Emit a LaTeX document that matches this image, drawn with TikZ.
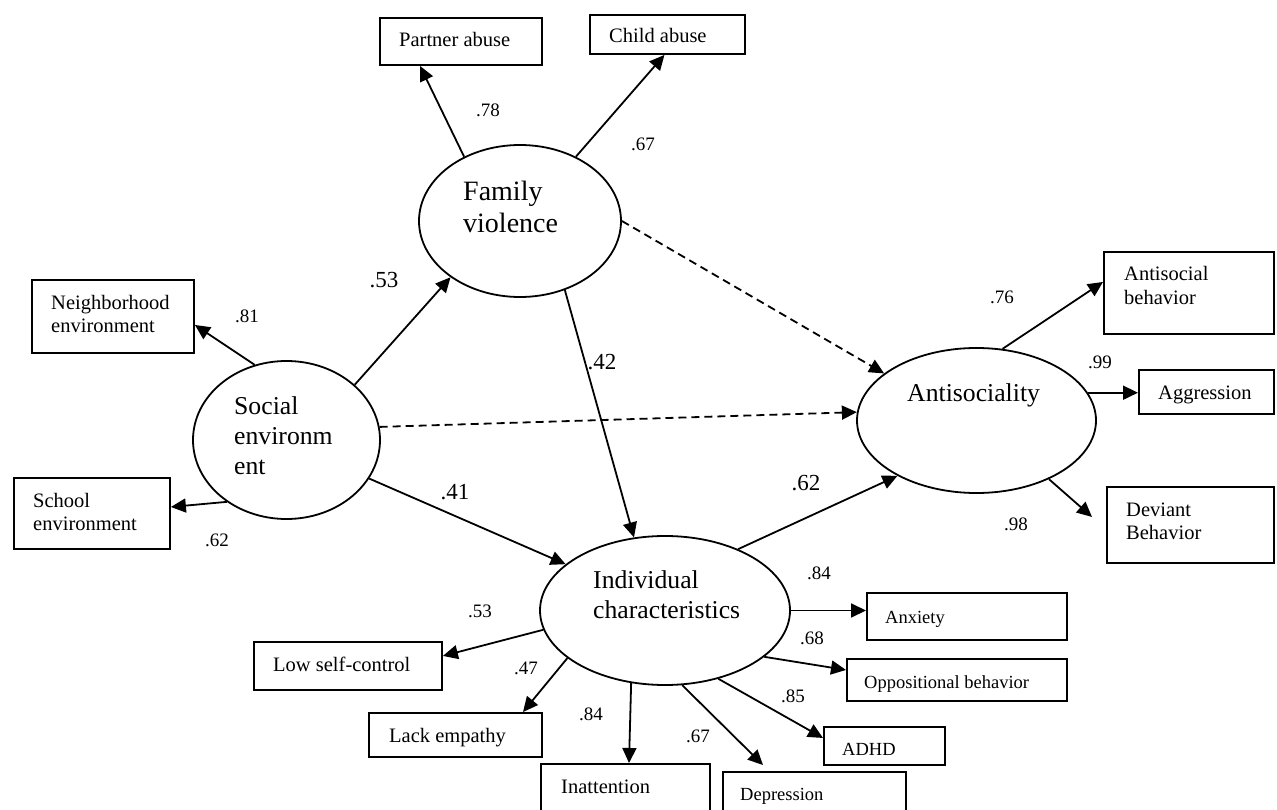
\documentclass[tikz,border=0pt]{standalone}
\usepackage{fontspec}
\setmainfont{Liberation Serif}
\usetikzlibrary{arrows.meta,shapes.geometric}
\newcommand{\bfnt}{\fontsize{20.5}{23.5}\selectfont}
\newcommand{\sfnt}{\fontsize{18.5}{21.5}\selectfont}
\newcommand{\efnt}{\fontsize{25.7}{30}\selectfont}
\newcommand{\ffnt}{\fontsize{28}{32}\selectfont}
\newcommand{\lsfnt}{\fontsize{19}{22}\selectfont}
\newcommand{\llfnt}{\fontsize{23}{26}\selectfont}
\tikzset{
  box/.style={draw, line width=1.9pt, rectangle, inner sep=0pt, anchor=north west},
  ell/.style={draw, ellipse, line width=1.8pt, inner sep=0pt},
  btxt/.style={font=\bfnt, anchor=base west, inner sep=0pt, align=left},
  stxt/.style={font=\sfnt, anchor=base west, inner sep=0pt, align=left},
  etxt/.style={font=\efnt, anchor=base west, inner sep=0pt, align=left},
  smalllab/.style={font=\lsfnt, inner sep=0pt},
  biglab/.style={font=\llfnt, inner sep=0pt},
  arr/.style={line width=1.8pt, -{Triangle[length=15pt,width=14pt]}},
  darr/.style={arr, dash pattern=on 8pt off 5pt}
}
\begin{document}
\begin{tikzpicture}[x=1pt,y=-1pt]
\useasboundingbox (0,0) rectangle (1277,810);
% latent variables
\node[ell, minimum width=202, minimum height=152] (fv) at (520,221) {};
\node[ell, minimum width=187, minimum height=158] (se) at (286.5,440) {};
\node[ell, minimum width=239, minimum height=145] (as) at (976.5,420.5) {};
\node[ell, minimum width=250, minimum height=149] (ic) at (665,610.5) {};
% (base of a multi-line node = baseline of its last line)
\node[etxt, font=\ffnt] (fvt) at (463,233) {Family\\violence};
\node[etxt] (set) at (234,474) {Social\\environm\\ent};
\node[etxt] (ast) at (907,401) {Antisociality};
\node[etxt] (ict) at (593,618) {Individual\\characteristics};
% indicators
\node[box, minimum width=162, minimum height=47] (pa) at (379,17) {};
\node[box, minimum width=155, minimum height=39] (ca) at (589,14) {};
\node[box, minimum width=162, minimum height=73] (nb) at (31,279) {};
\node[box, minimum width=156, minimum height=71] (sc) at (13,477) {};
\node[box, minimum width=170, minimum height=82] (ab) at (1103,251) {};
\node[box, minimum width=135, minimum height=44] (ag) at (1138,369) {};
\node[box, minimum width=167, minimum height=76] (db) at (1106,486) {};
\node[box, minimum width=200, minimum height=47] (anx) at (866,592) {};
\node[box, minimum width=220, minimum height=42] (opp) at (846,658) {};
\node[box, minimum width=121, minimum height=38] (adhd) at (823,726) {};
\node[box, minimum width=183, minimum height=60] (dep) at (722,771) {};
\node[box, minimum width=169, minimum height=60] (ina) at (540,763) {};
\node[box, minimum width=173, minimum height=44] (le) at (368,712) {};
\node[box, minimum width=188, minimum height=48] (lsc) at (253,641) {};
% indicator texts
\node[btxt] (pat) at ([shift={(20,30)}]pa.north west) {Partner abuse};
\node[btxt] (cat) at ([shift={(20,29)}]ca.north west) {Child abuse};
\node[btxt] (nbt) at ([shift={(20,54)}]nb.north west) {Neighborhood\\environment};
\node[btxt] (sct) at ([shift={(20,53.5)}]sc.north west) {School\\environment};
\node[btxt] (abt) at ([shift={(21,53.5)}]ab.north west) {Antisocial\\behavior};
\node[btxt] (agt) at ([shift={(20,30)}]ag.north west) {Aggression};
\node[btxt] (dbt) at ([shift={(20,53.5)}]db.north west) {Deviant\\Behavior};
\node[stxt] (anxt) at ([shift={(19,31)}]anx.north west) {Anxiety};
\node[stxt] (oppt) at ([shift={(18,30)}]opp.north west) {Oppositional behavior};
\node[stxt] (adhdt) at ([shift={(19,29)}]adhd.north west) {ADHD};
\node[stxt] (dept) at ([shift={(18,29)}]dep.north west) {Depression};
\node[btxt] (inat) at ([shift={(21,30)}]ina.north west) {Inattention};
\node[btxt] (let) at ([shift={(21,30)}]le.north west) {Lack empathy};
\node[btxt] (lsct) at ([shift={(20,30)}]lsc.north west) {Low self-control};
% connectors
\draw[arr] (fv.131) -- ([xshift=41pt]pa.south west);
\draw[arr] (fv.49) -- ([xshift=-3pt]ca.south);
\draw[arr] (se.39) -- (fv.219);
\draw[arr] (se.113) -- ([yshift=-8.5pt]nb.east);
\draw[arr] (se.226) -- ([yshift=6.5pt]sc.east);
\draw[darr] (se.8) -- (as.176);
\draw[arr] (se.335) -- (ic.155);
\draw[darr] (fv.0) -- (as.153);
\draw[arr] (fv.303) -- (ic.113);
\draw[arr] (ic.40) -- (as.215);
\draw[arr] (as.70) -- ([yshift=11pt]ab.west);
\draw[arr] (as.14) -- (as.14 -| ag.west);
\draw[arr] (as.321) -- ([xshift=-14pt,yshift=8pt]db.west);
\draw[arr] (ic.east) -- (ic.east -| anx.west);
\draw[arr] (ic.335) -- ([yshift=10pt]opp.west);
\draw[arr] (ic.308) -- ([yshift=8pt]adhd.west);
\draw[arr] (ic.283) -- ([xshift=41pt,yshift=6pt]dep.north west);
\draw[arr] (ic.245) -- ([xshift=89pt]ina.north west);
\draw[arr] (ic.206) -- ([xshift=155pt]le.north west);
\draw[arr] (ic.189) -- ([yshift=10pt]lsc.east);
% coefficients
\node[smalllab] (l78) at (488,110) {.78};
\node[smalllab] (l67a) at (643,144) {.67};
\node[biglab] (l53a) at (384,280) {.53};
\node[smalllab] (l81) at (247,316) {.81};
\node[smalllab] (l62a) at (217,540) {.62};
\node[biglab] (l42) at (602,362) {.42};
\node[biglab] (l41) at (455,492) {.41};
\node[biglab] (l62b) at (806,483) {.62};
\node[smalllab] (l76) at (1002,297) {.76};
\node[smalllab] (l99) at (1100,362) {.99};
\node[smalllab] (l98) at (1016,524) {.98};
\node[smalllab] (l84a) at (819,573) {.84};
\node[smalllab] (l68) at (812,638) {.68};
\node[smalllab] (l85) at (793,696) {.85};
\node[smalllab] (l67b) at (698,736) {.67};
\node[smalllab] (l84b) at (591,714) {.84};
\node[smalllab] (l47) at (526,668) {.47};
\node[smalllab] (l53b) at (480,611) {.53};
\end{tikzpicture}
\end{document}
